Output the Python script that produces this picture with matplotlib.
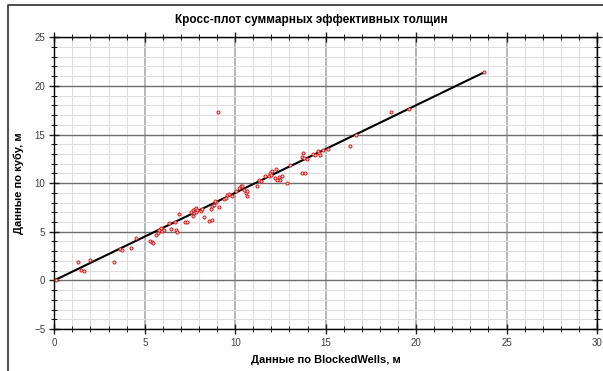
import matplotlib
matplotlib.use("Agg")
import matplotlib.pyplot as plt
from matplotlib.ticker import MultipleLocator
from matplotlib.lines import Line2D

plt.rcParams['font.family'] = ['Liberation Sans', 'DejaVu Sans']

title = "Кросс-плот суммарных эффективных толщин"
xlabel = "Данные по BlockedWells, м"
ylabel = "Данные по кубу, м"

# scatter data (BlockedWells vs cube)
bw = [0.08, 1.32, 1.45, 1.63, 2.0, 3.28, 3.65, 3.74, 4.23, 4.5,
      5.3, 5.38, 5.44, 5.63, 5.71, 5.81, 5.9, 5.96, 6.08, 6.32,
      6.45, 6.69, 6.72, 6.76, 6.91, 7.24, 7.36, 7.55, 7.64, 7.73,
      7.79, 7.86, 7.64, 7.82, 7.91, 8.1, 8.19, 8.28, 8.55, 8.74,
      8.65, 8.74, 8.83, 8.92, 8.88, 9.06, 9.1, 9.38, 9.47, 9.56,
      9.65, 9.84, 10.02, 10.2, 10.3, 10.38, 10.48, 10.57, 10.66, 10.66,
      11.2, 11.3, 11.4, 11.67, 11.85, 11.95, 12.03, 12.0, 12.25, 12.2,
      12.4, 12.5, 12.3, 12.59, 12.86, 13.04, 13.68, 13.87, 13.68, 13.77,
      13.83, 13.96, 14.32, 14.42, 14.6, 14.64, 14.69, 14.87, 15.15, 16.34,
      16.7, 18.63, 19.58, 23.76]
cube = [0.0, 1.9, 1.04, 1.0, 2.07, 1.9, 3.23, 3.09, 3.34, 4.36,
        4.0, 3.9, 3.85, 4.7, 4.88, 5.2, 5.39, 5.04, 5.2, 5.9,
        5.28, 5.97, 5.14, 4.94, 6.83, 5.97, 5.97, 7.0, 7.2, 6.93,
        7.34, 7.44, 6.65, 7.0, 7.27, 7.1, 7.34, 6.48, 6.07, 6.17,
        7.34, 7.61, 7.78, 8.02, 8.12, 17.36, 7.55, 8.37, 8.47, 8.81,
        8.91, 8.64, 9.15, 9.5, 9.66, 9.73, 9.32, 8.98, 8.64, 9.15,
        9.66, 10.35, 10.18, 10.69, 10.76, 11.04, 11.2, 10.86, 11.45, 10.52,
        10.63, 10.35, 10.28, 10.69, 10.0, 11.89, 11.04, 11.04, 12.74, 13.15,
        12.57, 12.47, 13.02, 12.92, 13.26, 13.09, 12.92, 13.36, 13.5, 13.77,
        14.97, 17.3, 17.6, 21.4]

# trend line
line_x = [0.0, 23.76]
line_y = [0.0, 21.4]

fig = plt.figure(figsize=(6.03, 3.71), dpi=100)
L, R, T, B = 54.3, 597.0, 37.3, 329.0
ax = fig.add_axes([L/603, 1-B/371, (R-L)/603, (B-T)/371])

ax.set_xlim(0, 30)
ax.set_ylim(-5, 25)
ax.xaxis.set_major_locator(MultipleLocator(5))
ax.yaxis.set_major_locator(MultipleLocator(5))
ax.xaxis.set_minor_locator(MultipleLocator(1))
ax.yaxis.set_minor_locator(MultipleLocator(1))

ax.grid(which='minor', color='#dedede', lw=0.8)
ax.grid(which='major', axis='x', color='#b0b0b0', lw=1.3)
ax.grid(which='major', axis='y', color='#6e6e6e', lw=1.0)
ax.set_axisbelow(True)

ax.plot(line_x, line_y, color='black', lw=1.5, zorder=3)
ax.plot(bw, cube, linestyle='none', marker='o', ms=2.2, mfc='#f6caca',
        mec='#d02020', mew=0.7, zorder=4)

for s in ax.spines.values():
    s.set_color('black')
    s.set_linewidth(1.0)

ax.tick_params(which='both', direction='inout', top=True, right=True,
               labelsize=7, labelcolor='#404040', color='#202020')
ax.tick_params(which='major', length=7, width=1, pad=3)
ax.tick_params(which='minor', length=5, width=0.7)

ax.set_xlabel(xlabel, fontsize=8, fontweight='bold', labelpad=5)
ax.set_ylabel(ylabel, fontsize=8, fontweight='bold', labelpad=7)
fig.text(311/603, 1-20/371, title, ha='center', va='center',
         fontsize=8.5, fontweight='bold')

fig.add_artist(Line2D([8/603, 8/603, 1], [0, 1-5/371, 1-5/371],
                      transform=fig.transFigure, color='#303030', lw=1.2))

fig.savefig("out.png", dpi=100)
